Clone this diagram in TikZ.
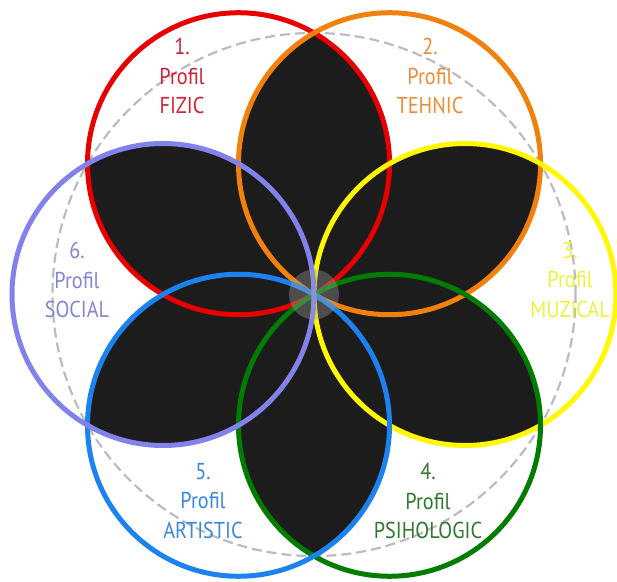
\documentclass[tikz,border=0pt]{standalone}
\usepackage{fontspec}
\newfontfamily\lblfont[FakeStretch=0.88]{PT Sans}
\usepackage{xcolor}

\definecolor{ringred}{RGB}{232,0,0}
\definecolor{ringorange}{RGB}{242,128,12}
\definecolor{ringyellow}{RGB}{255,248,0}
\definecolor{ringgreen}{RGB}{0,125,0}
\definecolor{ringblue}{RGB}{28,130,240}
\definecolor{ringpurple}{RGB}{130,130,235}
\definecolor{txtred}{RGB}{208,34,54}
\definecolor{txtorange}{RGB}{236,140,52}
\definecolor{txtyellow}{RGB}{240,240,60}
\definecolor{txtgreen}{RGB}{48,120,48}
\definecolor{txtblue}{RGB}{58,135,222}
\definecolor{txtpurple}{RGB}{132,132,212}
\definecolor{petalblack}{RGB}{28,28,28}
\definecolor{guidegray}{RGB}{188,188,188}

\begin{document}
\begin{tikzpicture}[
    x=1pt, y=1pt,
    ring/.style={line width=5pt},
    guide/.style={draw=guidegray, line width=2.2pt, dash pattern=on 10pt off 5pt},
    petal/.style={fill=petalblack},
    hub/.style={fill=gray!70!white, opacity=0.35},
    lbl/.style={font=\lblfont\fontsize{23}{29.5}\selectfont, align=center}
]
    \useasboundingbox (0,0) rectangle (617,581);
    \def\rad{151}

    \coordinate (o) at (314,286.5);
    % centres of the six circles
    \foreach \n/\a in {1/120, 2/60, 3/0, 4/-60, 5/-120, 6/180}
        \coordinate (c\n) at ([shift={(\a:\rad)}]o);

    \draw[guide] (o) circle ({\rad*sqrt(3)});

    % petals = overlap of neighbouring circles
    \foreach \i/\j in {1/2, 2/3, 3/4, 4/5, 5/6, 6/1} {
        \begin{scope}
            \clip (c\i) circle (\rad);
            \fill[petal] (c\j) circle (\rad);
        \end{scope}
    }

    \foreach \n/\col in {1/ringred, 2/ringorange, 3/ringyellow, 4/ringgreen, 5/ringblue, 6/ringpurple}
        \draw[ring, draw=\col] (c\n) circle (\rad);

    \fill[hub] (o) circle (25);

    \node[lbl, text=txtred] (fizic) at (182,505) {1.\\Profil\\FIZIC};
    \node[lbl, text=txtorange] (tehnic) at (430,505) {2.\\Profil\\TEHNIC};
    \node[lbl, text=txtyellow] (muzical) at (570,301) {3.\\Profil\\MUZICAL};
    \node[lbl, text=txtgreen] (psihologic) at (428,80) {4.\\Profil\\PSIHOLOGIC};
    \node[lbl, text=txtblue] (artistic) at (203,80) {5.\\Profil\\ARTISTIC};
    \node[lbl, text=txtpurple] (social) at (77,301) {6.\\Profil\\SOCIAL};
\end{tikzpicture}
\end{document}
